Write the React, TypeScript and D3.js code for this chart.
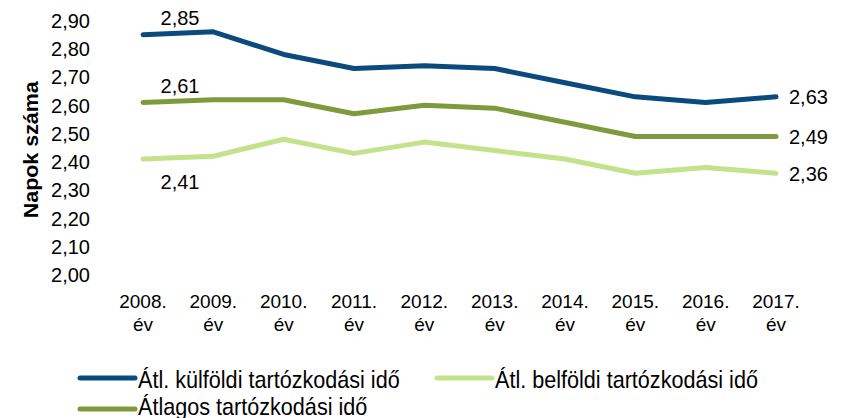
import React, { useEffect, useRef } from 'react';
import * as d3 from 'd3';

const years = ['2008.', '2009.', '2010.', '2011.', '2012.', '2013.', '2014.', '2015.', '2016.', '2017.'];
const yTicks = [2.0, 2.1, 2.2, 2.3, 2.4, 2.5, 2.6, 2.7, 2.8, 2.9];

const kulfoldi = [2.85, 2.86, 2.78, 2.73, 2.74, 2.73, 2.68, 2.63, 2.61, 2.63];
const atlagos = [2.61, 2.62, 2.62, 2.57, 2.60, 2.59, 2.54, 2.49, 2.49, 2.49];
const belfoldi = [2.41, 2.42, 2.48, 2.43, 2.47, 2.44, 2.41, 2.36, 2.38, 2.36];

const series = [
  { name: 'Átl. külföldi tartózkodási idő', values: kulfoldi, color: '#0b4a7d' },
  { name: 'Átl. belföldi tartózkodási idő', values: belfoldi, color: '#c4e28c' },
  { name: 'Átlagos tartózkodási idő', values: atlagos, color: '#7f9a3c' },
];

const W = 847;
const H = 418;
const FONT = 'Liberation Sans, Arial, sans-serif';

const fmt = (v: number) => v.toFixed(2).replace('.', ',');

const App = () => {
  const svgRef = useRef<SVGSVGElement | null>(null);

  useEffect(() => {
    if (!svgRef.current) return;
    const svg = d3.select(svgRef.current);
    svg.selectAll('*').remove();

    const x = d3.scalePoint<string>().domain(years).range([143, 776]);
    const y = d3.scaleLinear().domain([2.0, 2.9]).range([275, 20.5]);

    const g = svg.append('g').style('font-family', FONT).style('font-size', '19px');

    // y ticks
    g.append('g')
      .selectAll('text')
      .data(yTicks)
      .enter()
      .append('text')
      .attr('x', 90)
      .attr('y', d => y(d))
      .attr('dy', '0.36em')
      .attr('text-anchor', 'end')
      .attr('fill', '#000')
      .style('font-size', '20px')
      .text(d => fmt(d));

    // y title
    g.append('text')
      .attr('transform', `translate(38, ${(y(2.0) + y(2.9)) / 2 + 2}) rotate(-90) scale(1.1, 1)`)
      .attr('text-anchor', 'middle')
      .style('font-weight', 'bold')
      .style('font-size', '19.5px')
      .attr('fill', '#000')
      .text('Napok száma');

    // x labels
    const xl = g.append('g')
      .selectAll('text')
      .data(years)
      .enter()
      .append('text')
      .attr('text-anchor', 'middle')
      .attr('fill', '#000');
    xl.append('tspan').attr('x', d => x(d)!).attr('y', 308).text(d => d);
    xl.append('tspan').attr('x', d => x(d)!).attr('y', 331).text('év');

    // lines
    const line = d3.line<number>()
      .x((_, i) => x(years[i])!)
      .y(d => y(d));

    series.forEach(s => {
      g.append('path')
        .datum(s.values)
        .attr('d', line)
        .attr('fill', 'none')
        .attr('stroke', s.color)
        .attr('stroke-width', 5)
        .attr('stroke-linecap', 'round')
        .attr('stroke-linejoin', 'round');
    });

    // data labels: first point
    const firstLabels = [
      { v: kulfoldi[0], dy: -10 },
      { v: atlagos[0], dy: -10 },
      { v: belfoldi[0], dy: 30 },
    ];
    firstLabels.forEach(l => {
      g.append('text')
        .attr('x', x(years[0])! + 37)
        .attr('y', y(l.v) + l.dy)
        .attr('text-anchor', 'middle')
        .attr('fill', '#000')
        .style('font-size', '20px')
        .text(fmt(l.v));
    });

    // data labels: last point
    const last = years.length - 1;
    [kulfoldi, atlagos, belfoldi].forEach(vals => {
      g.append('text')
        .attr('x', x(years[last])! + 13)
        .attr('y', y(vals[last]))
        .attr('dy', '0.38em')
        .attr('fill', '#000')
        .style('font-size', '20px')
        .text(fmt(vals[last]));
    });

    // legend
    const legendPos = [
      { lx: 80, ly: 378, ty: 388 },
      { lx: 437, ly: 378, ty: 388 },
      { lx: 80, ly: 409, ty: 415 },
    ];
    series.forEach((s, i) => {
      const p = legendPos[i];
      g.append('line')
        .attr('x1', p.lx)
        .attr('x2', p.lx + 55)
        .attr('y1', p.ly)
        .attr('y2', p.ly)
        .attr('stroke', s.color)
        .attr('stroke-width', 5)
        .attr('stroke-linecap', 'round');
      g.append('text')
        .attr('transform', `translate(${p.lx + 58}, ${p.ty}) scale(0.9, 1)`)
        .attr('fill', '#000')
        .style('font-size', '24px')
        .text(s.name);
    });
  }, []);

  return (
    <svg
      ref={svgRef}
      width={W}
      height={H}
      style={{ position: 'absolute', left: 0, top: 0, background: '#fff' }}
    />
  );
};

export default App;
